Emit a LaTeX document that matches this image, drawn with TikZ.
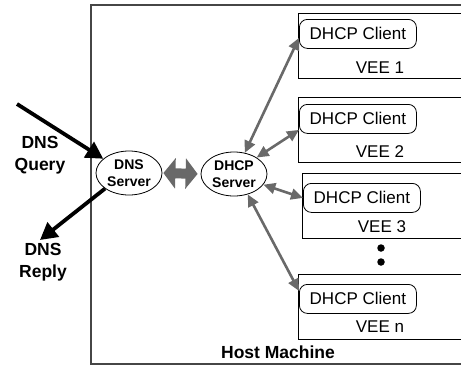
\documentclass[tikz,border=0pt]{standalone}
\usepackage{fontspec}
\setmainfont{Liberation Sans}
\usetikzlibrary{arrows.meta,shapes.geometric}
\definecolor{arrgray}{RGB}{105,105,105}
\definecolor{hostgray}{RGB}{70,70,70}
\begin{document}
\begin{tikzpicture}[x=1pt,y=-1pt,
  hostbox/.style={draw=hostgray,line width=1.6pt},
  hostlabel/.style={font=\fontsize{17.5}{20}\selectfont\bfseries},
  veebox/.style={draw=black,line width=0.8pt,rectangle,minimum width=220pt,minimum height=65pt,anchor=north west,inner sep=0pt},
  client/.style={draw=black,line width=0.8pt,rectangle,rounded corners=8pt,minimum width=117pt,minimum height=29pt,anchor=north west,inner sep=0pt,font=\fontsize{17}{20}\selectfont},
  veelabel/.style={font=\fontsize{17}{20}\selectfont},
  server/.style={draw=black,line width=0.8pt,ellipse,minimum width=66pt,minimum height=44pt,inner sep=0pt,align=center,font=\fontsize{14}{17}\selectfont\bfseries},
  extlabel/.style={align=center,font=\fontsize{17.5}{22}\selectfont\bfseries},
  blackarrow/.style={line width=3.8pt,-{Triangle[length=17pt,width=18pt]}},
  grayarrow/.style={draw=arrgray,line width=2.6pt,{Triangle[length=12pt,width=11pt]}-{Triangle[length=12pt,width=11pt]}},
  bigarrow/.style={draw=arrgray,line width=10pt,{Triangle[length=12pt,width=30pt]}-{Triangle[length=12pt,width=30pt]}},
  dot/.style={circle,fill=black,inner sep=0pt,minimum size=7.5pt}]
\useasboundingbox (0,0) rectangle (461,367);
\clip (0,0) rectangle (461,367);
% host machine
\draw[hostbox] (91,5) rectangle (490,364);
\node[hostlabel] (host) at (278,352) {Host Machine};
% VEE boxes
\node[veebox] (v1) at (298,13) {};
\node[veebox] (v2) at (298,97) {};
\node[veebox] (v3) at (302,173) {};
\node[veebox] (vn) at (298,274) {};
% clients
\node[client] (c1) at (299,19) {DHCP Client};
\node[client] (c2) at (299,104) {DHCP Client};
\node[client] (c3) at (303,183) {DHCP Client};
\node[client] (cn) at (299,284) {DHCP Client};
% VEE labels
\node[veelabel] (l1) at (380,68) {VEE 1};
\node[veelabel] (l2) at (380,152) {VEE 2};
\node[veelabel] (l3) at (382,227) {VEE 3};
\node[veelabel] (ln) at (380,327) {VEE n};
% dots
\node[dot] (d1) at (381,248) {};
\node[dot] (d2) at (381,262) {};
% servers
\node[server] (dns) at (129,173) {DNS\\Server};
\node[server] (dhcp) at (234,174) {DHCP\\Server};
% big double arrow
\draw[bigarrow,shorten <=1pt,shorten >=3pt] (dns.east) -- (dhcp.west);
% gray connectors
\draw[grayarrow] (dhcp.63) -- ([yshift=-4pt]c1.west);
\draw[grayarrow] (dhcp.36) -- ([yshift=-11pt]c2.west);
\draw[grayarrow] (dhcp.-20) -- (c3.west);
\draw[grayarrow] (dhcp.-56) -- ([yshift=8pt]cn.west);
% DNS query / reply
\coordinate (qs) at (17,104);
\coordinate (re) at (40,240);
\draw[blackarrow] (qs) -- (dns.151);
\draw[blackarrow] (dns.213) -- (re);
\node[extlabel] (ql) at (40,155) {DNS\\Query};
\node[extlabel] (rl) at (43,262) {DNS\\Reply};
\end{tikzpicture}
\end{document}
